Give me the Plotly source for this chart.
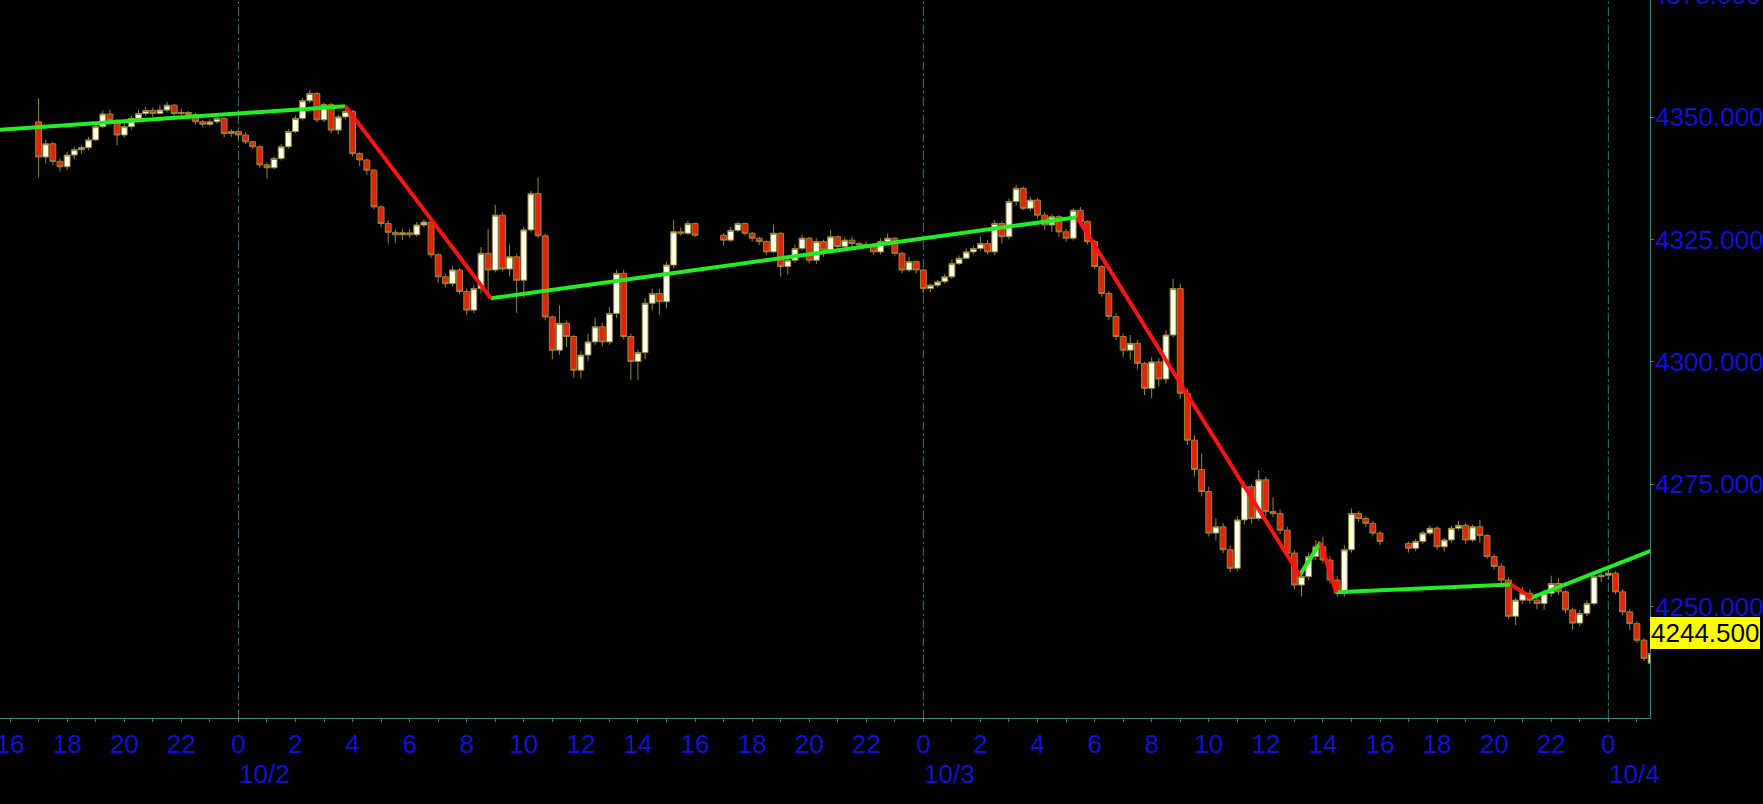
import pandas as pd
import plotly.graph_objects as go

# ---------------- data (15-minute bars) ----------------
session_starts = ["2023-10-01 17:00", "2023-10-02 17:00", "2023-10-03 17:00"]

s1_open = [4349.1, 4341.9, 4344.6, 4341.0, 4339.9, 4342.3, 4343.4, 4343.8, 4345.4, 4348.1,
           4350.7, 4349.4, 4346.4, 4348.1, 4349.8, 4350.8, 4351.4, 4350.8, 4351.5, 4352.5,
           4350.8, 4351.0, 4350.6, 4349.1, 4348.6, 4349.1, 4349.8, 4346.7, 4347.1, 4346.4,
           4345.0, 4344.0, 4340.3, 4339.7, 4341.6, 4344.0, 4347.1, 4349.8, 4353.4, 4354.9,
           4349.5, 4352.6, 4347.4, 4350.1, 4351.2, 4342.6, 4341.3, 4339.2, 4331.7, 4328.3,
           4326.5, 4326.0, 4326.4, 4326.0, 4328.0, 4328.6, 4321.9, 4317.4, 4316.0, 4318.8,
           4314.4, 4310.6, 4315.0, 4322.2, 4318.8, 4330.0, 4319.0, 4321.5, 4316.7, 4327.0,
           4334.4, 4325.8, 4309.2, 4302.4, 4307.9, 4305.2, 4298.3, 4301.4, 4304.1, 4307.2,
           4304.1, 4309.9, 4318.1, 4305.2, 4300.1, 4301.9, 4312.0, 4314.0, 4312.3, 4319.8,
           4326.6, 4326.3, 4328.3]
s1_high = [4353.9, 4345.4, 4345.0, 4341.6, 4343.0, 4344.0, 4344.3, 4346.0, 4348.5, 4351.4,
           4351.6, 4349.6, 4348.8, 4350.3, 4351.6, 4352.2, 4352.0, 4352.5, 4353.2, 4352.8,
           4351.8, 4351.3, 4350.9, 4349.5, 4349.6, 4350.4, 4350.0, 4347.6, 4347.4, 4347.0,
           4345.2, 4344.3, 4340.8, 4342.0, 4344.6, 4347.6, 4350.4, 4354.0, 4355.6, 4355.2,
           4353.0, 4353.0, 4350.6, 4352.3, 4351.5, 4343.0, 4341.6, 4339.5, 4332.0, 4329.0,
           4327.0, 4327.2, 4327.2, 4328.6, 4329.2, 4329.0, 4322.2, 4318.0, 4319.6, 4319.2,
           4315.0, 4315.7, 4323.5, 4327.2, 4332.1, 4330.6, 4324.0, 4322.0, 4327.6, 4335.0,
           4337.7, 4326.3, 4309.5, 4311.6, 4308.5, 4305.5, 4302.2, 4305.8, 4309.0, 4308.0,
           4311.2, 4318.8, 4318.8, 4305.8, 4302.6, 4313.0, 4315.0, 4315.0, 4320.5, 4329.0,
           4327.5, 4328.9, 4328.5]
s1_low = [4337.7, 4340.6, 4340.2, 4339.0, 4339.3, 4341.5, 4342.6, 4343.3, 4345.2, 4347.8,
          4348.6, 4344.3, 4345.8, 4347.5, 4349.2, 4350.3, 4350.1, 4350.6, 4351.0, 4350.2,
          4350.3, 4349.9, 4348.5, 4348.0, 4348.2, 4348.7, 4345.9, 4346.0, 4345.4, 4344.5,
          4343.5, 4339.7, 4337.5, 4339.4, 4341.2, 4343.6, 4346.8, 4349.3, 4353.0, 4349.0,
          4349.0, 4346.8, 4346.5, 4349.6, 4342.0, 4340.0, 4338.2, 4331.2, 4327.5, 4324.2,
          4324.3, 4325.0, 4325.4, 4325.6, 4327.5, 4321.3, 4316.2, 4315.2, 4315.4, 4313.8,
          4309.6, 4310.0, 4314.0, 4313.0, 4318.3, 4318.5, 4317.5, 4310.0, 4313.0, 4326.4,
          4325.3, 4308.5, 4300.5, 4301.5, 4303.0, 4296.8, 4296.6, 4300.2, 4303.5, 4303.2,
          4303.5, 4309.0, 4304.6, 4296.3, 4296.3, 4300.5, 4310.5, 4309.6, 4311.0, 4319.2,
          4325.8, 4325.9, 4325.5]
s1_close = [4341.9, 4344.6, 4341.0, 4339.9, 4342.3, 4343.4, 4343.8, 4345.4, 4348.1, 4350.7,
            4349.4, 4346.4, 4348.1, 4349.8, 4350.8, 4351.4, 4350.8, 4351.5, 4352.5, 4350.8,
            4351.0, 4350.6, 4349.1, 4348.6, 4349.1, 4349.8, 4346.7, 4347.1, 4346.4, 4345.0,
            4344.0, 4340.3, 4339.7, 4341.6, 4344.0, 4347.1, 4349.8, 4353.4, 4354.9, 4349.5,
            4352.6, 4347.4, 4350.1, 4351.2, 4342.6, 4341.3, 4339.2, 4331.7, 4328.3, 4326.5,
            4326.0, 4326.4, 4326.0, 4328.0, 4328.6, 4321.9, 4317.4, 4316.0, 4318.8, 4314.4,
            4310.6, 4315.0, 4322.2, 4318.8, 4330.0, 4319.0, 4321.5, 4316.7, 4327.0, 4334.4,
            4325.8, 4309.2, 4302.4, 4307.9, 4305.2, 4298.3, 4301.4, 4304.1, 4307.2, 4304.1,
            4309.9, 4318.1, 4305.2, 4300.1, 4301.9, 4312.0, 4314.0, 4312.3, 4319.8, 4326.6,
            4326.3, 4328.3, 4325.9]

s2_open = [4325.9, 4324.9, 4326.9, 4328.3, 4326.3, 4325.3, 4324.6, 4322.5, 4326.3, 4319.5,
           4320.8, 4323.2, 4325.3, 4320.8, 4324.6, 4322.9, 4325.6, 4323.6, 4324.9, 4324.2,
           4323.9, 4324.0, 4322.5, 4324.6, 4325.3, 4322.2, 4318.8, 4320.5, 4318.8, 4315.0,
           4315.7, 4316.4, 4317.4, 4320.1, 4321.2, 4322.5, 4323.2, 4324.2, 4322.5, 4328.3,
           4325.6, 4332.8, 4335.5, 4331.4, 4333.1, 4330.0, 4328.0, 4329.7, 4326.6, 4325.3,
           4331.0, 4328.7, 4324.6, 4319.5, 4314.0, 4309.3, 4305.2, 4302.4, 4303.8, 4299.7,
           4294.6, 4300.0, 4296.5, 4305.5, 4315.0, 4293.6, 4284.0, 4278.0, 4273.5, 4265.0,
           4266.3, 4261.6, 4257.8, 4267.7, 4274.5, 4268.0, 4275.9, 4269.4, 4269.0, 4265.6,
           4260.9, 4254.4, 4256.1, 4260.2, 4262.2, 4259.5, 4255.4, 4252.7, 4261.6, 4269.0,
           4268.0, 4267.0, 4265.0]
s2_high = [4326.3, 4327.6, 4328.7, 4328.5, 4326.6, 4325.6, 4324.8, 4328.0, 4326.6, 4321.2,
           4324.0, 4326.0, 4325.6, 4325.3, 4325.0, 4327.0, 4325.9, 4325.6, 4325.6, 4324.6,
           4324.6, 4324.3, 4325.3, 4326.3, 4325.5, 4322.5, 4321.5, 4320.8, 4319.0, 4316.0,
           4316.8, 4318.0, 4321.0, 4321.8, 4323.2, 4323.8, 4325.6, 4324.9, 4329.0, 4328.7,
           4333.4, 4336.2, 4335.9, 4333.8, 4333.5, 4330.7, 4330.2, 4330.0, 4327.2, 4331.4,
           4331.7, 4328.9, 4325.0, 4319.8, 4314.5, 4310.0, 4305.8, 4305.5, 4304.5, 4300.0,
           4301.0, 4300.8, 4306.5, 4317.0, 4316.0, 4294.5, 4285.0, 4281.3, 4274.5, 4268.0,
           4267.0, 4262.5, 4268.5, 4275.5, 4275.0, 4277.9, 4276.5, 4272.3, 4269.8, 4266.3,
           4261.5, 4257.0, 4261.0, 4263.5, 4264.2, 4260.3, 4256.2, 4262.5, 4270.0, 4269.5,
           4268.5, 4267.5, 4265.4]
s2_low = [4323.8, 4324.5, 4326.5, 4325.8, 4324.6, 4323.9, 4321.9, 4322.2, 4317.4, 4317.8,
          4320.3, 4322.8, 4320.1, 4320.0, 4321.5, 4322.5, 4322.9, 4323.2, 4323.5, 4323.4,
          4323.2, 4321.9, 4322.0, 4324.2, 4321.6, 4318.1, 4318.3, 4318.1, 4314.0, 4314.3,
          4315.3, 4316.0, 4317.0, 4319.8, 4321.0, 4322.0, 4322.8, 4322.0, 4321.8, 4324.2,
          4325.0, 4332.0, 4331.0, 4330.8, 4329.3, 4327.0, 4326.6, 4325.5, 4324.6, 4324.8,
          4328.2, 4324.0, 4319.0, 4313.3, 4308.6, 4304.5, 4301.0, 4300.5, 4298.5, 4293.2,
          4292.6, 4295.0, 4295.6, 4305.0, 4292.5, 4283.0, 4276.5, 4272.5, 4264.3, 4263.5,
          4260.9, 4257.0, 4257.2, 4266.8, 4267.0, 4267.5, 4268.5, 4268.2, 4264.8, 4260.2,
          4253.5, 4252.0, 4255.3, 4259.5, 4258.8, 4254.7, 4252.0, 4252.0, 4261.0, 4267.3,
          4266.3, 4264.3, 4262.6]
s2_close = [4324.9, 4326.9, 4328.3, 4326.3, 4325.3, 4324.6, 4322.5, 4326.3, 4319.5, 4320.8,
            4323.2, 4325.3, 4320.8, 4324.6, 4322.9, 4325.6, 4323.6, 4324.9, 4324.2, 4323.9,
            4324.0, 4322.5, 4324.6, 4325.3, 4322.2, 4318.8, 4320.5, 4318.8, 4315.0, 4315.7,
            4316.4, 4317.4, 4320.1, 4321.2, 4322.5, 4323.2, 4324.2, 4322.5, 4328.3, 4325.6,
            4332.8, 4335.5, 4331.4, 4333.1, 4330.0, 4328.0, 4329.7, 4326.6, 4325.3, 4331.0,
            4328.7, 4324.6, 4319.5, 4314.0, 4309.3, 4305.2, 4302.4, 4303.8, 4299.7, 4294.6,
            4300.0, 4296.5, 4305.5, 4315.0, 4293.6, 4284.0, 4278.0, 4273.5, 4265.0, 4266.3,
            4261.6, 4257.8, 4267.7, 4274.5, 4268.0, 4275.9, 4269.4, 4269.0, 4265.6, 4260.9,
            4254.4, 4256.1, 4260.2, 4262.2, 4259.5, 4255.4, 4252.7, 4261.6, 4269.0, 4268.0,
            4267.0, 4265.0, 4263.3]

s3_open = [4262.9, 4261.9, 4263.3, 4265.0, 4266.0, 4262.2, 4263.6, 4266.0, 4266.6, 4263.6,
           4266.3, 4264.5, 4260.2, 4258.2, 4255.4, 4248.0, 4251.3, 4252.7, 4251.3, 4250.6,
           4252.7, 4254.7, 4253.0, 4249.3, 4246.6, 4248.6, 4250.6, 4256.1, 4256.4, 4256.8,
           4253.0, 4248.9, 4246.5, 4243.1, 4238.4]
s3_high = [4263.3, 4263.8, 4265.5, 4266.6, 4266.4, 4264.0, 4266.5, 4267.5, 4267.0, 4266.8,
           4267.7, 4264.8, 4260.8, 4258.8, 4256.0, 4251.8, 4254.0, 4253.5, 4252.5, 4253.5,
           4256.3, 4255.8, 4253.4, 4249.8, 4249.3, 4251.2, 4257.0, 4257.2, 4257.5, 4257.2,
           4253.6, 4249.5, 4247.0, 4243.5, 4241.0]
s3_low = [4261.0, 4261.3, 4262.8, 4264.6, 4261.6, 4261.2, 4263.0, 4265.5, 4262.8, 4263.2,
          4263.0, 4259.8, 4257.5, 4254.7, 4247.5, 4246.2, 4250.5, 4250.6, 4249.5, 4249.3,
          4252.0, 4252.3, 4248.6, 4245.2, 4245.9, 4248.0, 4250.2, 4255.0, 4255.6, 4252.5,
          4248.2, 4245.2, 4242.5, 4238.8, 4237.7]
s3_close = [4261.9, 4263.3, 4265.0, 4266.0, 4262.2, 4263.6, 4266.0, 4266.6, 4263.6, 4266.3,
            4264.5, 4260.2, 4258.2, 4255.4, 4248.0, 4251.3, 4252.7, 4251.3, 4250.6, 4252.7,
            4254.7, 4253.0, 4249.3, 4246.6, 4248.6, 4250.6, 4256.1, 4256.4, 4256.8, 4253.0,
            4248.9, 4246.5, 4243.1, 4239.4, 4240.4]

# zigzag pivots
zz_time = ["2023-10-01 15:30", "2023-10-02 03:45", "2023-10-02 08:51", "2023-10-03 05:23",
           "2023-10-03 13:11", "2023-10-03 13:55", "2023-10-03 14:28", "2023-10-03 20:35",
           "2023-10-03 21:19", "2023-10-04 01:30"]
zz_value = [4347.4, 4352.3, 4313.0, 4329.6, 4256.4, 4263.1, 4252.9, 4254.5, 4251.8, 4261.4]

# axis / label data
x_view = ["2023-10-01 15:38:49", "2023-10-04 01:27:36"]
y_view = [4227.2, 4374.0]
day_starts = ["2023-10-02", "2023-10-03", "2023-10-04"]
day_labels = ["10/2", "10/3", "10/4"]
top_cut_tick = 4375.0
last_price = 4244.5

# ---------------- styles ----------------
BG = "#000000"
AXIS = "#3a8c8c"
DAYLINE = "#2a7a7a"
BLUE = "#1212d0"
OUTLINE = "#9a8634"
UP_FILL = "#fffff0"
DOWN_FILL = "#e4230c"
ZZ_UP = "#22ee22"
ZZ_DOWN = "#ff1414"
FONT = "Liberation Sans"
FS = 26

# ---------------- build ----------------
sessions = [(s1_open, s1_high, s1_low, s1_close),
            (s2_open, s2_high, s2_low, s2_close),
            (s3_open, s3_high, s3_low, s3_close)]
times, o, h, l, c = [], [], [], [], []
for start, (so, sh, sl, sc) in zip(session_starts, sessions):
    times += list(pd.date_range(start, periods=len(sc), freq="15min"))
    o += so
    h += sh
    l += sl
    c += sc

fig = go.Figure()
fig.add_trace(go.Candlestick(
    x=times, open=o, high=h, low=l, close=c,
    increasing=dict(line=dict(color=OUTLINE, width=1), fillcolor=UP_FILL),
    decreasing=dict(line=dict(color=OUTLINE, width=1), fillcolor=DOWN_FILL),
    whiskerwidth=0, showlegend=False, hoverinfo="skip"))

up_x, up_y, dn_x, dn_y = [], [], [], []
for i in range(len(zz_time) - 1):
    seg_x = [zz_time[i], zz_time[i + 1], None]
    seg_y = [zz_value[i], zz_value[i + 1], None]
    if zz_value[i + 1] >= zz_value[i]:
        up_x += seg_x
        up_y += seg_y
    else:
        dn_x += seg_x
        dn_y += seg_y
fig.add_trace(go.Scatter(x=up_x, y=up_y, mode="lines", line=dict(color=ZZ_UP, width=4),
                         showlegend=False, hoverinfo="skip"))
fig.add_trace(go.Scatter(x=dn_x, y=dn_y, mode="lines", line=dict(color=ZZ_DOWN, width=4),
                         showlegend=False, hoverinfo="skip"))

for d in day_starts:
    fig.add_shape(type="line", x0=d, x1=d, xref="x", y0=0, y1=1, yref="paper",
                  line=dict(color=DAYLINE, width=1, dash="dashdot"), layer="below")

for d, lab in zip(day_starts, day_labels):
    fig.add_annotation(x=d, xref="x", y=0, yref="paper", yshift=-56, text=lab,
                       showarrow=False, xanchor="left", yanchor="middle", borderpad=0,
                       font=dict(family=FONT, size=FS, color=BLUE))

# partially visible top tick label
fig.add_annotation(x=1, xref="paper",
                   y=(top_cut_tick - y_view[0]) / (y_view[1] - y_view[0]), yref="paper",
                   text=f"{top_cut_tick:.3f}", showarrow=False, xanchor="left", yanchor="middle",
                   xshift=1, borderpad=0, font=dict(family=FONT, size=FS, color=BLUE))

# last price box
fig.add_annotation(x=1, xref="paper", y=last_price, yref="y", text=f"{last_price:.3f}",
                   showarrow=False, xanchor="left", yanchor="middle", bgcolor="#ffff00",
                   borderpad=1, borderwidth=0, font=dict(family=FONT, size=FS, color="#000000"))

fig.update_layout(
    width=1763, height=804,
    margin=dict(l=0, r=113, t=0, b=86, autoexpand=False),
    paper_bgcolor=BG, plot_bgcolor=BG, showlegend=False,
    boxgap=0.18, boxgroupgap=0,
    xaxis=dict(type="date", range=x_view, rangeslider=dict(visible=False),
               showgrid=False, zeroline=False, showline=True, linecolor=AXIS, linewidth=1,
               ticks="outside", ticklen=3, tickcolor=AXIS,
               tick0="2023-10-01 00:00", dtick=7200000, tickformat="%-H",
               tickfont=dict(family=FONT, size=FS, color=BLUE), ticklabeloverflow="allow",
               minor=dict(dtick=3600000, ticks="outside", ticklen=3, tickcolor=AXIS)),
    yaxis=dict(side="right", range=y_view, dtick=25, tick0=0, tickformat=".3f",
               showgrid=False, zeroline=False, showline=True, linecolor=AXIS, linewidth=1,
               ticks="outside", ticklen=3, tickcolor=AXIS, ticklabelstandoff=-4,
               tickfont=dict(family=FONT, size=FS, color=BLUE), ticklabeloverflow="allow"),
)

fig.write_html("out.html", config={"displayModeBar": False},
               post_script="document.body.style.margin='0';document.body.style.overflow='hidden';")
